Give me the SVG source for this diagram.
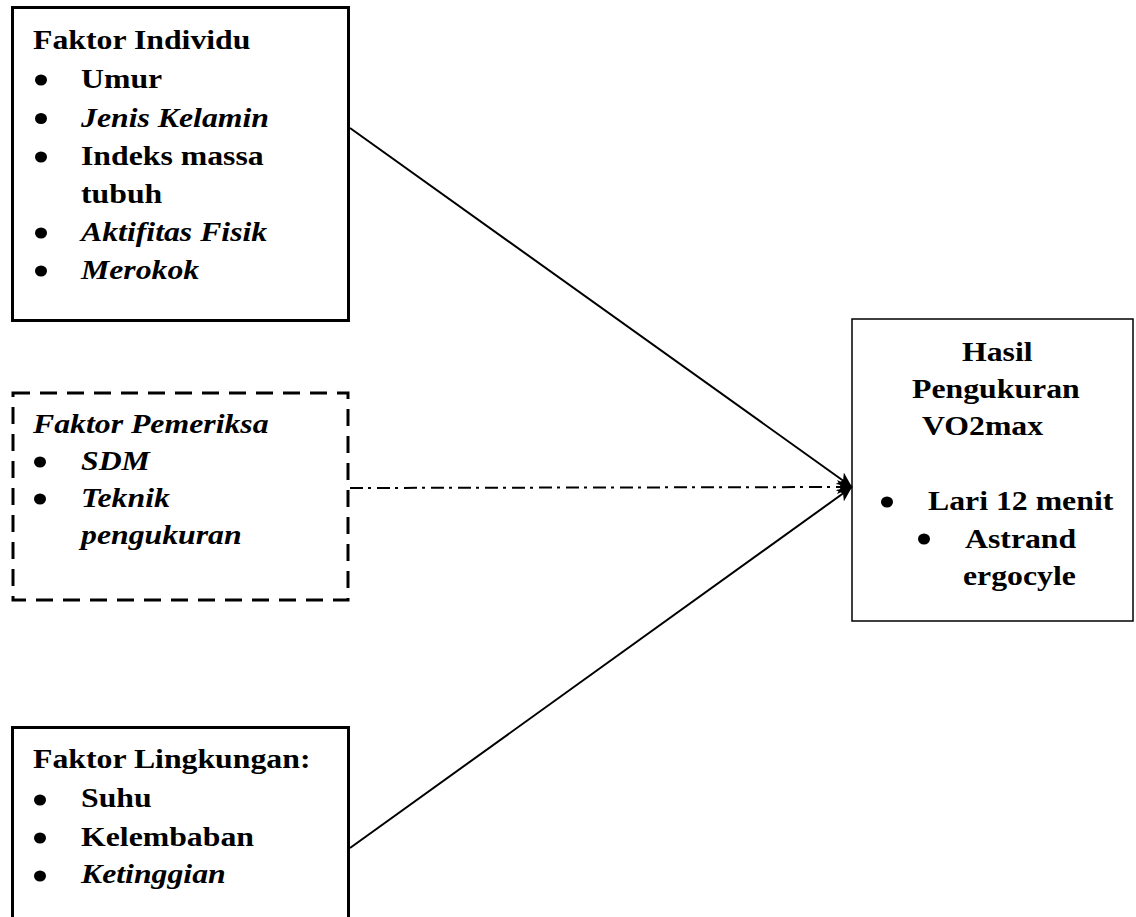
<svg xmlns="http://www.w3.org/2000/svg" width="1136" height="917" viewBox="0 0 1136 917">
<style>
.t{font-family:"Liberation Serif","Times New Roman",serif;font-size:28px;font-weight:bold;fill:#000}
.i{font-style:italic}
.box{fill:none;stroke:#000;stroke-width:3}
.thin{fill:none;stroke:#000;stroke-width:1.5}
.dash{fill:none;stroke:#000;stroke-width:3;stroke-dasharray:17 10}
.conn{fill:none;stroke:#000;stroke-width:2}
.dd{stroke-dasharray:13 5 3 6}
</style>
<defs>
<marker id="ah" markerUnits="userSpaceOnUse" markerWidth="16" markerHeight="14" refX="15" refY="7" orient="auto">
<path d="M0,0 L15,7 L0,14 L4,7 z" fill="#000"/>
</marker>
</defs>
<rect width="1136" height="917" fill="#fff"/>

<g id="connectors">
<line class="conn" x1="350" y1="128" x2="852" y2="487" marker-end="url(#ah)"/>
<line class="conn" x1="350" y1="848" x2="852" y2="487" marker-end="url(#ah)"/>
<line class="conn dd" x1="350" y1="488" x2="852" y2="487" marker-end="url(#ah)"/>
</g>

<g id="faktor-individu">
<rect class="box" x="12.5" y="7.5" width="336" height="313"/>
<text class="t" transform="translate(33 49) scale(1.135 1)">Faktor Individu</text>
<ellipse cx="41" cy="80" rx="6" ry="5.5"/>
<text class="t" transform="translate(81 88) scale(1.135 1)">Umur</text>
<ellipse cx="41" cy="118.5" rx="6" ry="5.5"/>
<text class="t i" transform="translate(81 126.5) scale(1.135 1)">Jenis Kelamin</text>
<ellipse cx="41" cy="157" rx="6" ry="5.5"/>
<text class="t" transform="translate(81 165) scale(1.135 1)">Indeks massa</text>
<text class="t" transform="translate(81 203) scale(1.135 1)">tubuh</text>
<ellipse cx="41" cy="233" rx="6" ry="5.5"/>
<text class="t i" transform="translate(81 241) scale(1.135 1)">Aktifitas Fisik</text>
<ellipse cx="41" cy="271" rx="6" ry="5.5"/>
<text class="t i" transform="translate(81 279) scale(1.135 1)">Merokok</text>
</g>

<g id="faktor-pemeriksa">
<rect class="dash" x="13" y="393" width="335" height="207"/>
<text class="t i" transform="translate(33 433) scale(1.135 1)">Faktor Pemeriksa</text>
<ellipse cx="40" cy="462" rx="6" ry="5.5"/>
<text class="t i" transform="translate(81 470) scale(1.135 1)">SDM</text>
<ellipse cx="40" cy="499" rx="6" ry="5.5"/>
<text class="t i" transform="translate(81 507) scale(1.135 1)">Teknik</text>
<text class="t i" transform="translate(81 544) scale(1.135 1)">pengukuran</text>
</g>

<g id="faktor-lingkungan">
<rect class="box" x="12.5" y="727.5" width="336" height="200"/>
<text class="t" transform="translate(33 768) scale(1.135 1)">Faktor Lingkungan:</text>
<ellipse cx="40" cy="800" rx="6" ry="5.5"/>
<text class="t" transform="translate(81 807) scale(1.135 1)">Suhu</text>
<ellipse cx="40" cy="838" rx="6" ry="5.5"/>
<text class="t" transform="translate(81 846) scale(1.135 1)">Kelembaban</text>
<ellipse cx="40" cy="876" rx="6" ry="5.5"/>
<text class="t i" transform="translate(81 883) scale(1.135 1)">Ketinggian</text>
</g>

<g id="hasil-pengukuran">
<rect class="thin" x="852" y="319" width="281" height="302"/>
<text class="t" transform="translate(962 361) scale(1.135 1)">Hasil</text>
<text class="t" transform="translate(912 398) scale(1.135 1)">Pengukuran</text>
<text class="t" transform="translate(922 435) scale(1.135 1)">VO2max</text>
<ellipse cx="887" cy="502" rx="6" ry="5.5"/>
<text class="t" transform="translate(928 510) scale(1.135 1)">Lari 12 menit</text>
<ellipse cx="924" cy="539" rx="6" ry="5.5"/>
<text class="t" transform="translate(965 548) scale(1.135 1)">Astrand</text>
<text class="t" transform="translate(963 585) scale(1.135 1)">ergocyle</text>
</g>
</svg>
